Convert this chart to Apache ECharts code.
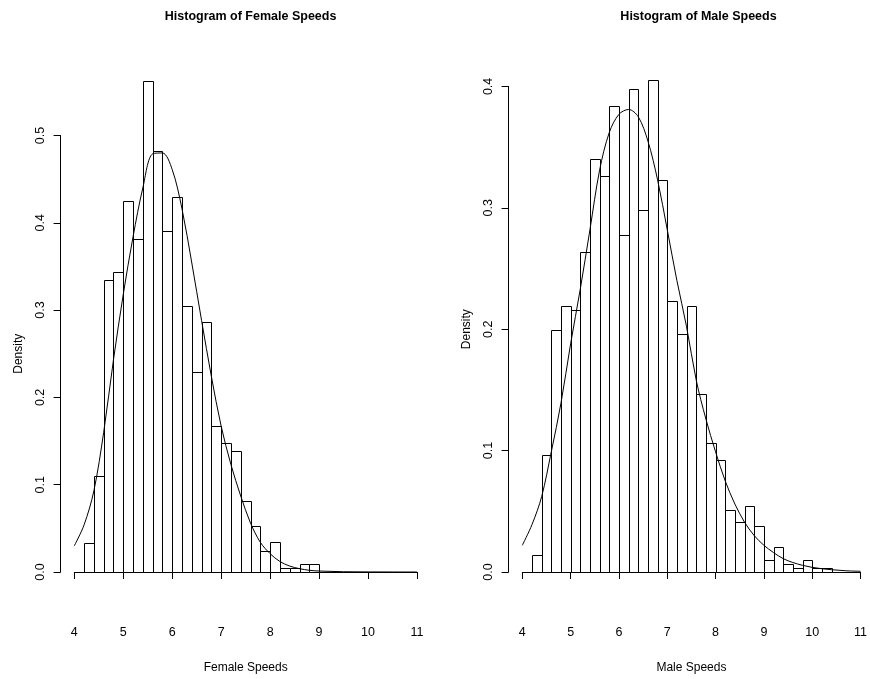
<!DOCTYPE html>
<html>
<head>
<meta charset="utf-8">
<script src="https://cdn.jsdelivr.net/npm/echarts@6/dist/echarts.min.js"></script>
<style>
  html, body { margin: 0; padding: 0; background: #ffffff; }
  #chart { width: 870px; height: 679px; }
</style>
</head>
<body>
<div id="chart"></div>
<script>
// Histogram bin edges (density scale, width 0.2)
const femaleBreaks = [4.2, 4.4, 4.6, 4.8, 5.0, 5.2, 5.4, 5.6, 5.8, 6.0, 6.2, 6.4, 6.6,
  6.8, 7.0, 7.2, 7.4, 7.6, 7.8, 8.0, 8.2, 8.4, 8.6, 8.8, 9.0];
const femaleDensity = [0.033, 0.110, 0.334, 0.344, 0.425, 0.382, 0.563, 0.482, 0.391,
  0.430, 0.305, 0.229, 0.286, 0.167, 0.148, 0.139, 0.081, 0.053, 0.024, 0.034,
  0.005, 0.005, 0.0096, 0.0096];

const maleBreaks = [4.2, 4.4, 4.6, 4.8, 5.0, 5.2, 5.4, 5.6, 5.8, 6.0, 6.2, 6.4, 6.6,
  6.8, 7.0, 7.2, 7.4, 7.6, 7.8, 8.0, 8.2, 8.4, 8.6, 8.8, 9.0, 9.2, 9.4, 9.6, 9.8,
  10.0, 10.2, 10.4];
const maleDensity = [0.0137, 0.096, 0.199, 0.219, 0.216, 0.264, 0.340, 0.326, 0.384,
  0.278, 0.398, 0.298, 0.405, 0.323, 0.223, 0.196, 0.219, 0.147, 0.106, 0.0925,
  0.0513, 0.0412, 0.0546, 0.0376, 0.0101, 0.0206, 0.0069, 0.0036, 0.0101, 0.0036,
  0.0036];

// Fitted density curves
const femaleCurveX = [4.0, 4.2, 4.4, 4.6, 4.8, 5.0, 5.2, 5.4, 5.6, 5.8, 6.0, 6.2,
  6.4, 6.6, 6.8, 7.0, 7.2, 7.4, 7.6, 7.8, 8.0, 8.2, 8.4, 8.6, 8.8, 9.0, 9.5, 10.0,
  10.5, 11.0];
const femaleCurveY = [0.030, 0.054, 0.093, 0.160, 0.243, 0.318, 0.384, 0.440, 0.479,
  0.480, 0.461, 0.416, 0.354, 0.288, 0.224, 0.167, 0.123, 0.087, 0.056,
  0.034, 0.021, 0.012, 0.0068, 0.0038, 0.002, 0.0011, 0.0003, 0.0001, 0.00003,
  0.00001];

const maleCurveX = [4.0, 4.2, 4.4, 4.6, 4.8, 5.0, 5.2, 5.4, 5.6, 5.8, 6.0, 6.2, 6.4,
  6.6, 6.8, 7.0, 7.2, 7.4, 7.6, 7.8, 8.0, 8.2, 8.4, 8.6, 8.8, 9.0, 9.2, 9.4, 9.6,
  9.8, 10.0, 10.2, 10.4, 10.7, 11.0];
const maleCurveY = [0.022, 0.039, 0.062, 0.099, 0.139, 0.188, 0.233, 0.282, 0.331,
  0.362, 0.377, 0.381, 0.375, 0.355, 0.323, 0.282, 0.240, 0.202, 0.158, 0.126,
  0.099, 0.075, 0.056, 0.041, 0.030, 0.022, 0.016, 0.011, 0.0078, 0.0055, 0.0038,
  0.0027, 0.0019, 0.0010, 0.0006];

const xTickLabels = ['4', '5', '6', '7', '8', '9', '10', '11'];
const titles = ['Histogram of Female Speeds', 'Histogram of Male Speeds'];
const xNames = ['Female Speeds', 'Male Speeds'];
const yName = 'Density';

const ink = '#000000';
const plainFont = "'Liberation Sans', Arial, Helvetica, sans-serif";

function histData(breaks, dens) {
  return dens.map((d, i) => [breaks[i], breaks[i + 1], d]);
}

function curveData(xs, ys) {
  return xs.map((x, i) => [x, ys[i]]);
}

function crisp(v) { return Math.round(v) + 0.5; }

// One outlined histogram bar, placed through the axis scales
function renderBin(params, api) {
  const topLeft = api.coord([api.value(0), api.value(2)]);
  const bottomRight = api.coord([api.value(1), 0]);
  const x0 = crisp(topLeft[0]), x1 = crisp(bottomRight[0]);
  const y0 = crisp(topLeft[1]), y1 = crisp(bottomRight[1]);
  return {
    type: 'rect',
    shape: { x: x0, y: y0, width: x1 - x0, height: y1 - y0 },
    style: { fill: '#ffffff', stroke: ink, lineWidth: 1 }
  };
}

function xAxisFor(idx) {
  return {
    type: 'value', gridIndex: idx, min: 4, max: 11, interval: 1, offset: 20,
    axisLine: { show: true, lineStyle: { color: ink, width: 1 } },
    axisTick: { show: true, length: 7, lineStyle: { color: ink } },
    splitLine: { show: false },
    axisLabel: {
      color: ink, fontSize: 12.5, fontFamily: plainFont, margin: 34,
      formatter: v => xTickLabels[Math.round(v) - 4]
    },
    name: xNames[idx], nameLocation: 'middle', nameGap: 70,
    nameTextStyle: { color: ink, fontSize: 12, fontFamily: plainFont }
  };
}

function yAxisFor(idx, max) {
  return {
    type: 'value', gridIndex: idx, min: 0, max: max, interval: 0.1, offset: 13.7,
    axisLine: { show: true, lineStyle: { color: ink, width: 1 } },
    axisTick: { show: true, length: 7, lineStyle: { color: ink } },
    splitLine: { show: false },
    axisLabel: {
      color: ink, fontSize: 12.5, fontFamily: plainFont, rotate: 90, margin: 14,
      formatter: v => v.toFixed(1)
    },
    name: yName, nameLocation: 'middle', nameRotate: 90, nameGap: 36,
    nameTextStyle: { color: ink, fontSize: 12, fontFamily: plainFont }
  };
}

function curveSeries(idx, xs, ys) {
  return {
    type: 'line', xAxisIndex: idx, yAxisIndex: idx, showSymbol: false, symbol: 'none',
    smooth: 0.33, clip: false,
    lineStyle: { color: ink, width: 1 }, data: curveData(xs, ys), z: 3
  };
}

const chart = echarts.init(document.getElementById('chart'), null, { renderer: 'canvas' });

chart.setOption({
  backgroundColor: '#ffffff',
  animation: false,
  title: [
    { text: titles[0], left: 245.6, top: 5, textAlign: 'center',
      textStyle: { color: ink, fontSize: 12.5, fontWeight: 'bold', fontFamily: plainFont } },
    { text: titles[1], left: 693.5, top: 5, textAlign: 'center',
      textStyle: { color: ink, fontSize: 12.5, fontWeight: 'bold', fontFamily: plainFont } }
  ],
  grid: [
    { left: 74.3, top: 135.5, width: 342.7, height: 436.5 },
    { left: 522.3, top: 86.4, width: 342, height: 485.6 }
  ],
  xAxis: [xAxisFor(0), xAxisFor(1)],
  yAxis: [yAxisFor(0, 0.5), yAxisFor(1, 0.4)],
  series: [
    { type: 'custom', xAxisIndex: 0, yAxisIndex: 0, clip: false,
      renderItem: renderBin, data: histData(femaleBreaks, femaleDensity), z: 2 },
    curveSeries(0, femaleCurveX, femaleCurveY),
    { type: 'custom', xAxisIndex: 1, yAxisIndex: 1, clip: false,
      renderItem: renderBin, data: histData(maleBreaks, maleDensity), z: 2 },
    curveSeries(1, maleCurveX, maleCurveY)
  ]
});
</script>
</body>
</html>
